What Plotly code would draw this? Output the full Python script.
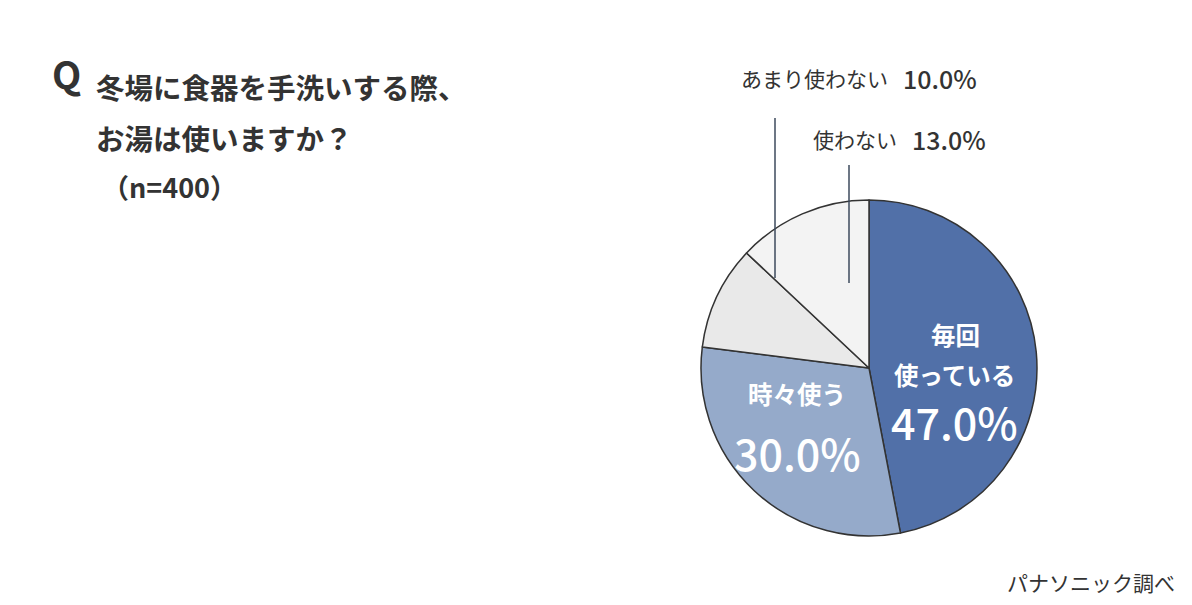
import plotly.graph_objects as go

# answers, clockwise from 12 o'clock
labels = ['毎回使っている', '時々使う', 'あまり使わない', '使わない']
values = [47.0, 30.0, 10.0, 13.0]
colors = ['#5170a8', '#95aaca', '#e9e9e9', '#f3f3f3']

title_lines = ['冬場に食器を手洗いする際、', 'お湯は使いますか？', '（n=400）']
source = 'パナソニック調べ'

FONT = 'Noto Sans CJK JP'
W, H = 1192, 605
OFF = 8  # page body margin


def px(x, y):
    # screen pixel -> paper coords
    return (x - OFF) / W, 1 - (y - OFF) / H


def fmt(v):
    return '%.1f%%' % v


fig = go.Figure()

cx, cy, r = 869, 368, 168
x0, y1 = px(cx - r, cy - r)
x1, y0 = px(cx + r, cy + r)
fig.add_trace(go.Pie(
    labels=labels,
    values=values,
    sort=False,
    direction='clockwise',
    rotation=0,
    marker=dict(colors=colors, line=dict(color='#333333', width=1.5)),
    textinfo='none',
    hoverinfo='label+percent',
    showlegend=False,
    domain=dict(x=[x0, x1], y=[y0, y1]),
))

ann = []

def add(xp, yp, text, size, color='#333333', anchor='center', weight='normal'):
    x, y = px(xp, yp)
    ann.append(dict(x=x, y=y, text=text, xanchor=anchor, yanchor='middle',
                    font=dict(size=size, color=color, family=FONT, weight=weight)))

# question block
add(50, 72, 'Q', 38, weight='bold', anchor='left')
add(94, 86, title_lines[0], 28.5, weight='bold', anchor='left')
add(94, 137, title_lines[1], 28.5, weight='bold', anchor='left')
add(100, 186, title_lines[2], 27, weight='bold', anchor='left')

# outside labels for the small slices
add(739, 78, labels[2], 21, anchor='left')
add(979, 78, fmt(values[2]), 25, anchor='right', weight=500)
add(811, 139, labels[3], 21, anchor='left')
add(988, 139, fmt(values[3]), 25, anchor='right', weight=500)

# inside labels
add(955, 334, '毎回', 24.5, color='white', weight='bold')
add(954, 374, '使っている', 24.5, color='white', weight='bold')
add(954, 421, fmt(values[0]), 43, color='white', weight=500)
add(797, 393, labels[1], 24.5, color='white', weight='bold')
add(797, 452, fmt(values[1]), 43, color='white', weight=500)

# source
add(1177, 582, source, 21, anchor='right')

for a in ann:
    a['xref'] = 'paper'
    a['yref'] = 'paper'
    a['showarrow'] = False

# leader lines
shapes = []
for lx, ly0, ly1 in [(775, 118, 278), (849, 165, 283)]:
    xa, ya = px(lx, ly0)
    _, yb = px(lx, ly1)
    shapes.append(dict(type='line', xref='paper', yref='paper', x0=xa, x1=xa, y0=ya, y1=yb,
                       line=dict(color='#3d4a5c', width=1.5)))

fig.update_layout(
    width=W, height=H,
    margin=dict(l=0, r=0, t=0, b=0),
    paper_bgcolor='white',
    plot_bgcolor='white',
    font=dict(family=FONT),
    annotations=ann,
    shapes=shapes,
)

fig.write_html('out.html')
